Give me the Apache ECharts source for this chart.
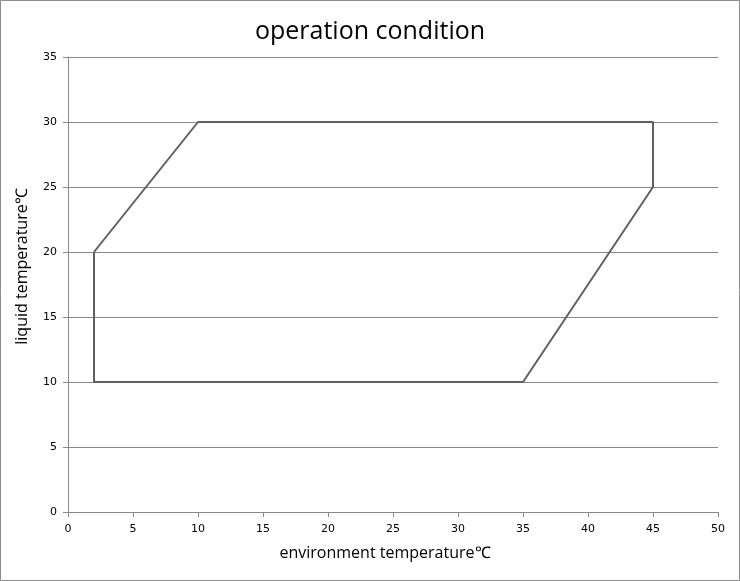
<!DOCTYPE html>
<html><head><meta charset="utf-8">
<script src="https://cdn.jsdelivr.net/npm/echarts@6/dist/echarts.min.js"></script>
<style>html,body{margin:0;padding:0;background:#fff}#c{width:740px;height:581px}</style>
</head><body><div id="c"></div>
<script>
const envTemp = [2, 10, 45, 45, 35, 2, 2];
const liquidTemp = [20, 30, 30, 25, 10, 10, 20];
const xTicks = [0, 5, 10, 15, 20, 25, 30, 35, 40, 45, 50];
const yTicks = [0, 5, 10, 15, 20, 25, 30, 35];

const chart = echarts.init(document.getElementById('c'));
const axisCol = '#888888';
chart.setOption({
  animation: false,
  backgroundColor: '#fff',
  title: {
    text: 'operation condition', left: 'center', top: 14,
    textStyle: {fontFamily: 'Open Sans', fontWeight: 'normal', fontSize: 25, color: '#000'}
  },
  graphic: [{type: 'rect', shape: {x: 0.5, y: 0.5, width: 739, height: 580}, style: {fill: 'none', stroke: '#8c8c8c', lineWidth: 1}}],
  grid: {left: 68, right: 22, top: 57, bottom: 69, containLabel: false},
  xAxis: {
    type: 'value', min: xTicks[0], max: xTicks[xTicks.length - 1], interval: 5,
    name: 'environment temperature℃', nameLocation: 'middle', nameGap: 33,
    nameTextStyle: {fontFamily: 'Open Sans', fontSize: 16, color: '#000', padding: [0, 16, 0, 0]},
    axisLine: {show: true, lineStyle: {color: axisCol}},
    axisTick: {show: true, inside: false, length: 5, lineStyle: {color: axisCol}},
    axisLabel: {fontFamily: 'DejaVu Sans', fontSize: 11, color: '#000', margin: 12},
    splitLine: {show: false}
  },
  yAxis: {
    type: 'value', min: yTicks[0], max: yTicks[yTicks.length - 1], interval: 5,
    name: 'liquid temperature℃', nameLocation: 'middle', nameGap: 38, nameRotate: 90,
    nameTextStyle: {fontFamily: 'Open Sans', fontSize: 16, color: '#000', padding: [0, 0, 0, 36]},
    axisLine: {show: true, lineStyle: {color: axisCol}},
    axisTick: {show: true, length: 5, lineStyle: {color: axisCol}},
    axisLabel: {fontFamily: 'DejaVu Sans', fontSize: 11, color: '#000', margin: 11},
    splitLine: {show: true, lineStyle: {color: axisCol, width: 1}}
  },
  series: [{
    type: 'line', showSymbol: false, symbol: 'none',
    data: envTemp.map((x, i) => [x, liquidTemp[i]]),
    lineStyle: {color: '#606060', width: 2}
  }]
});
</script></body></html>
